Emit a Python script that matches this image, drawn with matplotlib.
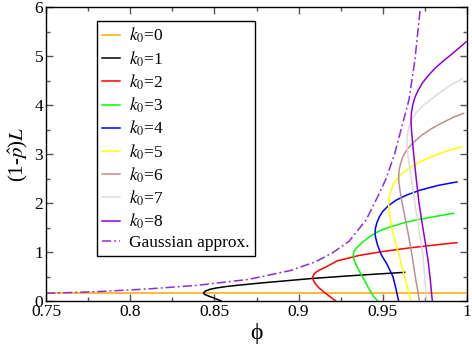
import numpy as np
import matplotlib
matplotlib.use('Agg')
import matplotlib.pyplot as plt
from matplotlib.ticker import MultipleLocator

plt.rcParams['font.family'] = ['Liberation Serif', 'DejaVu Serif']
plt.rcParams['mathtext.fontset'] = 'stix'

# curves traced from the bottom (y=0) through the turning point to the upper end
k0_labels = ['0', '1', '2', '3', '4', '5', '6', '7', '8']
k0_colors = ['#FFA500', '#000000', '#FF0000', '#00FF00', '#0000FF',
             '#FFFF00', '#BC8F8F', '#DCDCDC', '#9400D3']

phi_k0 = [
    [0.75, 1.0],
    [0.854, 0.8505, 0.847, 0.8445, 0.8435, 0.8445, 0.847, 0.851, 0.857, 0.865,
     0.880, 0.895, 0.908, 0.935, 0.963],
    [0.922, 0.919, 0.9155, 0.912, 0.9098, 0.9087, 0.9083, 0.9088, 0.910, 0.9125,
     0.916, 0.923, 0.936, 0.950, 0.965, 0.980, 0.994],
    [0.947, 0.9444, 0.9418, 0.9395, 0.9365, 0.934, 0.9328, 0.9325, 0.933, 0.9348,
     0.938, 0.9425, 0.948, 0.955, 0.963, 0.972, 0.982, 0.992],
    [0.9594, 0.9578, 0.956, 0.9525, 0.949, 0.9468, 0.9457, 0.9454, 0.9456, 0.9465,
     0.948, 0.950, 0.9535, 0.958, 0.964, 0.972, 0.983, 0.994],
    [0.9667, 0.9652, 0.9635, 0.9613, 0.960, 0.9578, 0.956, 0.9545, 0.9537, 0.9535,
     0.9537, 0.9545, 0.956, 0.958, 0.961, 0.966, 0.972, 0.980, 0.989, 0.997],
    [0.9717, 0.9708, 0.9695, 0.9675, 0.9655, 0.9632, 0.9612, 0.960, 0.9594,
     0.9596, 0.9605, 0.962, 0.9645, 0.968, 0.973, 0.979, 0.986, 0.992, 0.998],
    [0.976, 0.9752, 0.974, 0.9718, 0.9688, 0.9663, 0.9648, 0.9643,
     0.9645, 0.9655, 0.967, 0.970, 0.974, 0.979, 0.985, 0.991, 0.9975],
    [0.9794, 0.9783, 0.977, 0.9752, 0.9733, 0.9715, 0.970, 0.9686, 0.9675, 0.9669,
     0.9668, 0.967, 0.9678, 0.969, 0.971, 0.9735, 0.977, 0.981, 0.986, 0.991,
     0.9955, 0.9995],
]
L_k0 = [
    [0.157, 0.157],
    [0.0, 0.05, 0.095, 0.13, 0.16, 0.2, 0.235, 0.265, 0.295, 0.325,
     0.375, 0.42, 0.46, 0.525, 0.585],
    [0.0, 0.08, 0.17, 0.27, 0.36, 0.43, 0.48, 0.53, 0.58, 0.635,
     0.69, 0.82, 0.93, 1.01, 1.08, 1.14, 1.19],
    [0.0, 0.1, 0.25, 0.4, 0.58, 0.75, 0.86, 0.94, 1.02, 1.1,
     1.2, 1.32, 1.43, 1.52, 1.6, 1.67, 1.73, 1.79],
    [0.0, 0.25, 0.5, 0.75, 0.95, 1.15, 1.3, 1.38, 1.48, 1.6,
     1.72, 1.83, 1.95, 2.06, 2.16, 2.26, 2.36, 2.43],
    [0.0, 0.2, 0.43, 0.7, 0.9, 1.15, 1.4, 1.65, 1.85, 1.95,
     2.08, 2.22, 2.36, 2.47, 2.59, 2.72, 2.84, 2.96, 3.07, 3.15],
    [0.0, 0.2, 0.45, 0.9, 1.3, 1.7, 2.05, 2.3, 2.5,
     2.65, 2.8, 2.95, 3.1, 3.23, 3.38, 3.52, 3.65, 3.75, 3.83],
    [0.0, 0.36, 0.9, 1.38, 2.06, 2.65, 3.0, 3.2,
     3.38, 3.56, 3.7, 3.85, 3.99, 4.13, 4.28, 4.42, 4.54],
    [0.0, 0.4, 0.8, 1.2, 1.6, 2.0, 2.45, 2.9, 3.3, 3.55,
     3.7, 3.85, 4.0, 4.15, 4.3, 4.45, 4.6, 4.75, 4.9, 5.04,
     5.17, 5.29],
]

phi_gauss = [0.75, 0.78, 0.81, 0.84, 0.87, 0.895, 0.91, 0.92, 0.93, 0.94,
             0.948, 0.952, 0.957, 0.962, 0.9655, 0.969, 0.9725]
L_gauss = [0.157, 0.19, 0.245, 0.32, 0.44, 0.62, 0.8, 0.98, 1.22, 1.65,
           2.2, 2.5, 3.0, 3.65, 4.1, 4.9, 6.05]

fig = plt.figure(figsize=(4.72, 3.46), dpi=100)
ax = fig.add_axes([46 / 472, 45 / 346, 421 / 472, 294 / 346])

for lab, col, xs, ys in zip(k0_labels, k0_colors, phi_k0, L_k0):
    ax.plot(xs, ys, color=col, lw=1.1, label=f'$k_0$={lab}')
ax.plot(phi_gauss, L_gauss, color='#8A2BE2', lw=1.1, ls=(0, (6, 2, 1.2, 2)),
        label='Gaussian approx.')

ax.set_xlim(0.75, 1.0)
ax.set_ylim(0, 6)
ax.xaxis.set_minor_locator(MultipleLocator(0.025))
ax.yaxis.set_major_locator(MultipleLocator(1))
ax.yaxis.set_minor_locator(MultipleLocator(0.5))
ax.set_xticks([0.75, 0.8, 0.85, 0.9, 0.95, 1.0])
ax.set_xticklabels(['0.75', '0.8', '0.85', '0.9', '0.95', '1'])
ax.tick_params(which='both', direction='in', top=True, right=True,
               color='#555555', labelsize=12.5, pad=2)
ax.tick_params(which='major', length=5, width=1)
ax.tick_params(which='minor', length=3, width=1)
for s in ax.spines.values():
    s.set_linewidth(1.0)

ax.set_xlabel('ϕ', fontsize=17, labelpad=2)
ax.set_ylabel(r'(1-$\hat{p}$)$L$', fontsize=15, labelpad=3)

leg = ax.legend(loc='upper left', bbox_to_anchor=(0.121, 0.953), borderaxespad=0,
                fancybox=False, edgecolor='black', framealpha=1, fontsize=12.5,
                handlelength=1.0, handletextpad=0.55, labelspacing=0.22,
                borderpad=0.3)
leg.get_frame().set_linewidth(1.0)

fig.savefig('out.png', dpi=100)
